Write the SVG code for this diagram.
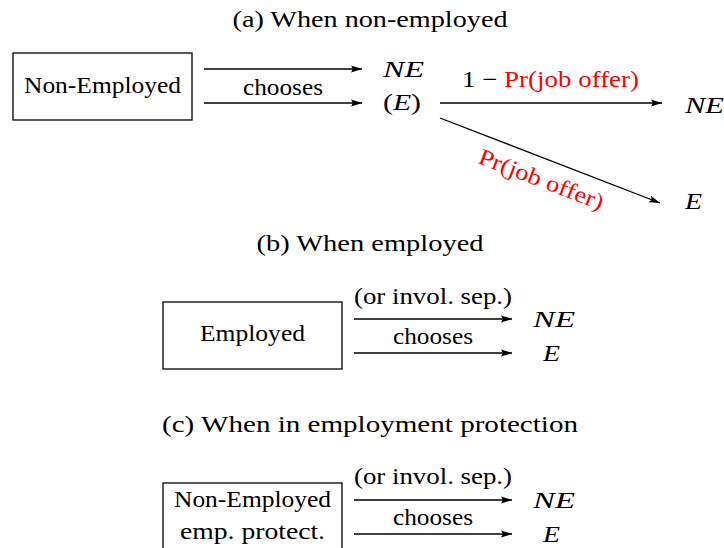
<svg xmlns="http://www.w3.org/2000/svg" width="724" height="548" viewBox="0 0 724 548">
<style>
text{font-family:"Liberation Serif","Times New Roman",Times,"DejaVu Serif","Noto Serif",serif;font-size:23px;fill:#000}
.m{font-style:italic}
.r{fill:#ff0000}
.box{fill:#fff;stroke:#000;stroke-width:1.3}
.c line{stroke:#000;stroke-width:1.3;marker-end:url(#ah)}
</style>
<defs>
<marker id="ah" markerUnits="userSpaceOnUse" markerWidth="12" markerHeight="8" refX="11" refY="4" orient="auto">
<path d="M0,0.5 L11,4 L0,7.5 L2,4 z" fill="#000"/>
</marker>
</defs>
<g id="titles">
<text x="370" y="27" text-anchor="middle" textLength="275" lengthAdjust="spacingAndGlyphs">(a) When non-employed</text>
<text x="370" y="251" text-anchor="middle" textLength="227" lengthAdjust="spacingAndGlyphs">(b) When employed</text>
<text x="370" y="432" text-anchor="middle" textLength="416" lengthAdjust="spacingAndGlyphs">(c) When in employment protection</text>
</g>

<g id="nonemployed">
<rect class="box" x="13" y="53" width="179" height="67"/>
<text x="102.5" y="93" text-anchor="middle" textLength="157" lengthAdjust="spacingAndGlyphs">Non-Employed</text>
</g>
<g id="a-choice">
<text class="m" x="383" y="77" textLength="41" lengthAdjust="spacingAndGlyphs">NE</text>
<text x="383" y="110" textLength="38" lengthAdjust="spacingAndGlyphs">(<tspan class="m">E</tspan>)</text>
</g>
<g id="a-ne"><text class="m" x="685" y="113" textLength="39" lengthAdjust="spacingAndGlyphs">NE</text></g>
<g id="a-e"><text class="m" x="685" y="209" textLength="17" lengthAdjust="spacingAndGlyphs">E</text></g>

<g id="employed">
<rect class="box" x="163" y="302" width="179" height="67"/>
<text x="252.5" y="341" text-anchor="middle" textLength="105" lengthAdjust="spacingAndGlyphs">Employed</text>
</g>
<g id="b-ne"><text class="m" x="533" y="327" textLength="42" lengthAdjust="spacingAndGlyphs">NE</text></g>
<g id="b-e"><text class="m" x="543" y="361" textLength="17" lengthAdjust="spacingAndGlyphs">E</text></g>

<g id="protected">
<rect class="box" x="163" y="483" width="179" height="80"/>
<text x="252.5" y="507" text-anchor="middle" textLength="157" lengthAdjust="spacingAndGlyphs">Non-Employed</text>
<text x="252.5" y="539" text-anchor="middle" textLength="145" lengthAdjust="spacingAndGlyphs">emp. protect.</text>
</g>
<g id="c-ne"><text class="m" x="533" y="508" textLength="42" lengthAdjust="spacingAndGlyphs">NE</text></g>
<g id="c-e"><text class="m" x="543" y="542" textLength="17" lengthAdjust="spacingAndGlyphs">E</text></g>

<g id="connectors" class="c">
<line x1="204" y1="69" x2="362" y2="69"/>
<line x1="204" y1="103" x2="362" y2="103"/>
<line x1="440" y1="103" x2="662" y2="103"/>
<line x1="440" y1="118" x2="660" y2="203"/>
<line x1="354" y1="319" x2="512" y2="319"/>
<line x1="354" y1="353" x2="512" y2="353"/>
<line x1="354" y1="500" x2="512" y2="500"/>
<line x1="354" y1="534" x2="512" y2="534"/>
<text x="283" y="95" text-anchor="middle" textLength="80" lengthAdjust="spacingAndGlyphs">chooses</text>
<text x="550.5" y="87" text-anchor="middle" textLength="177" lengthAdjust="spacingAndGlyphs">1 − <tspan class="r">Pr(job offer)</tspan></text>
<text class="r" transform="translate(538.5 186.5) rotate(21)" text-anchor="middle" textLength="132" lengthAdjust="spacingAndGlyphs">Pr(job offer)</text>
<text x="433" y="304" text-anchor="middle" textLength="158" lengthAdjust="spacingAndGlyphs">(or invol. sep.)</text>
<text x="433" y="344" text-anchor="middle" textLength="80" lengthAdjust="spacingAndGlyphs">chooses</text>
<text x="433" y="484" text-anchor="middle" textLength="158" lengthAdjust="spacingAndGlyphs">(or invol. sep.)</text>
<text x="433" y="525" text-anchor="middle" textLength="80" lengthAdjust="spacingAndGlyphs">chooses</text>
</g>
</svg>
